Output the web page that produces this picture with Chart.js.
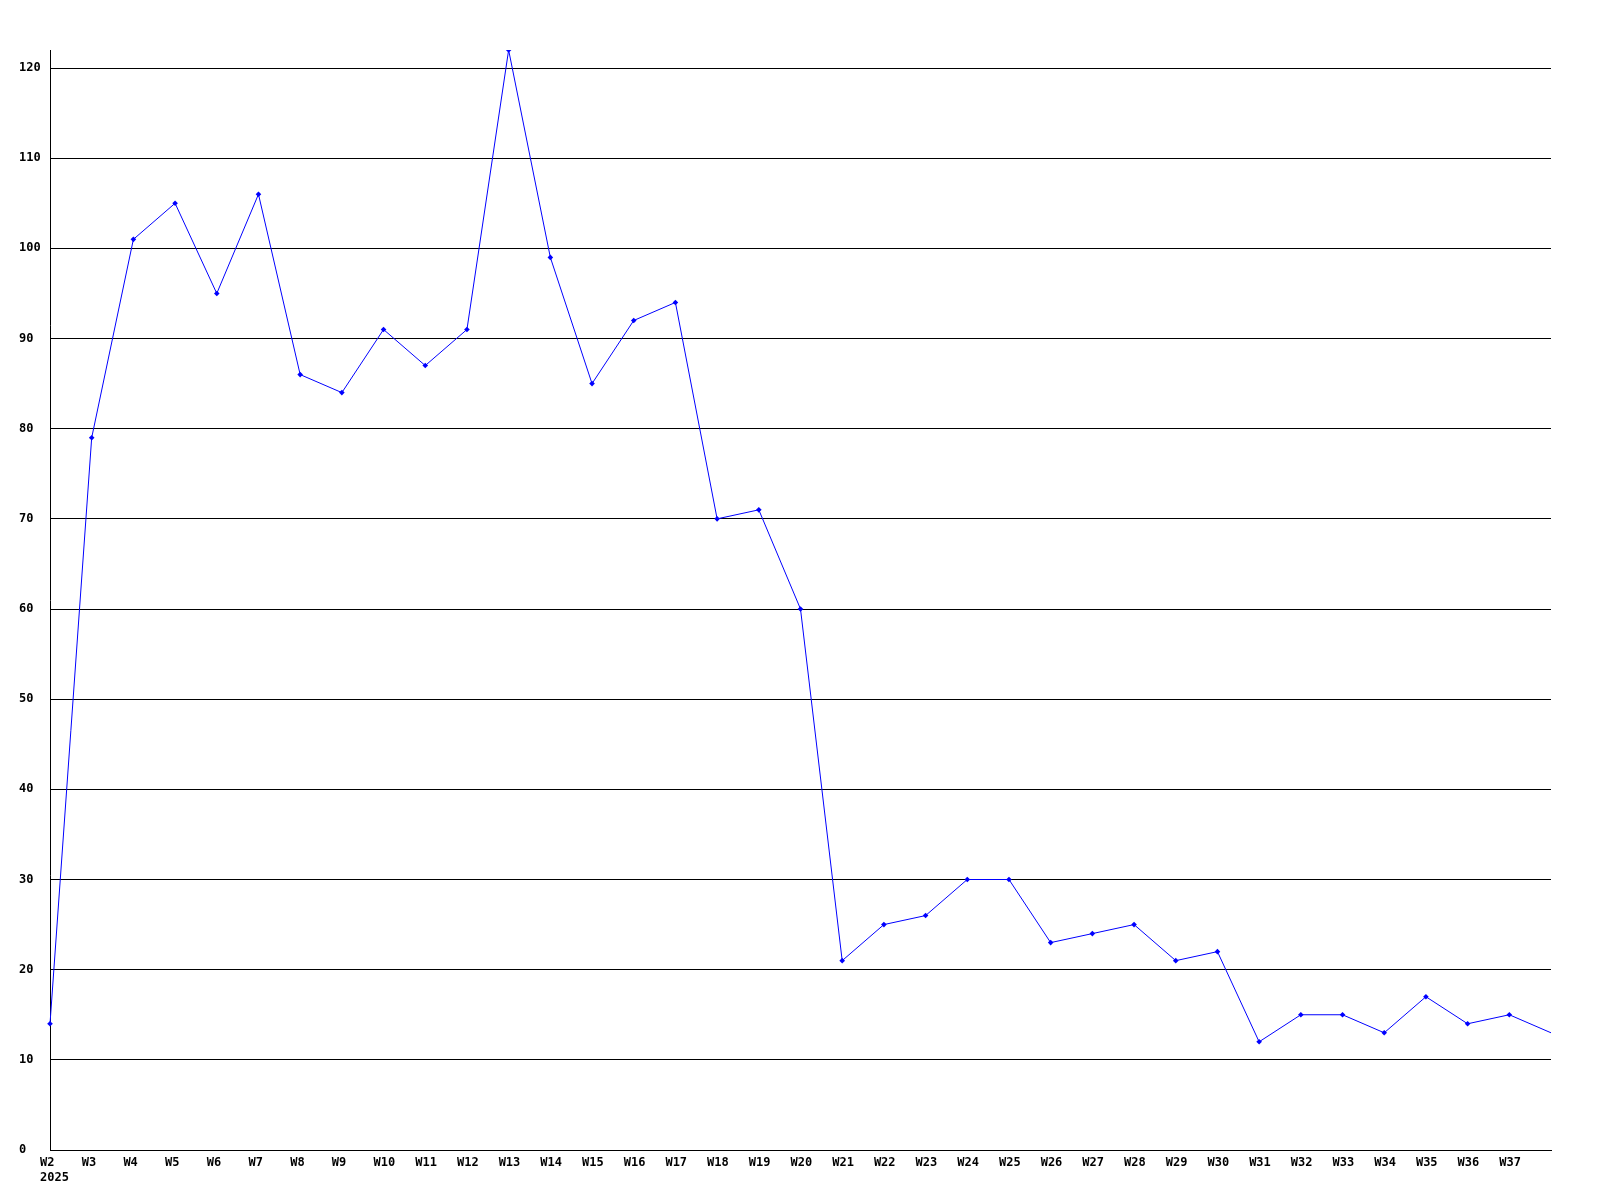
<!DOCTYPE html>
<html>
<head>
<meta charset="utf-8">
<script src="https://cdn.jsdelivr.net/npm/chart.js@4/dist/chart.umd.min.js"></script>
<style>
html,body{margin:0;padding:0;background:#fff;}
#c{display:block;}
</style>
</head>
<body>
<canvas id="c" width="1600" height="1200"></canvas>
<script>
const weeks = ['W2','W3','W4','W5','W6','W7','W8','W9','W10','W11','W12','W13','W14','W15','W16','W17','W18','W19','W20','W21','W22','W23','W24','W25','W26','W27','W28','W29','W30','W31','W32','W33','W34','W35','W36','W37','W38'];
const yearLabel = '2025';
const values = [14,79,101,105,95,106,86,84,91,87,91,122,99,85,92,94,70,71,60,21,25,26,30,30,23,24,25,21,22,12,15,15,13,17,14,15,13];
const yMin = 0, yMax = 122, yStep = 10;

const font = {family: '"DejaVu Sans Mono", monospace', size: 12, weight: 'bold'};

new Chart(document.getElementById('c'), {
  type: 'line',
  data: {
    labels: weeks,
    datasets: [{
      data: values,
      borderColor: '#0000ff',
      backgroundColor: '#0000ff',
      borderWidth: 1,
      pointStyle: 'rectRot',
      pointRadius: values.map((v,i)=> i === values.length-1 ? 0 : 2.8),
      pointBorderWidth: 0,
      tension: 0,
      fill: false
    }]
  },
  options: {
    responsive: false,
    devicePixelRatio: 1,
    animation: false,
    layout: {padding: {left: 19, top: 50, right: 49, bottom: 0}},
    plugins: {legend: {display: false}, tooltip: {enabled: false}},
    scales: {
      x: {
        offset: false,
        grid: {display: false, drawTicks: false},
        border: {display: true, color: '#000', width: 1},
        ticks: {
          color: '#000', font: font, padding: 6, maxRotation: 0, autoSkip: false,
          align: 'start', labelOffset: -10,
          callback: function(v, i) {
            if (i === weeks.length - 1) return '';
            if (i === 0) return [weeks[i], yearLabel];
            return weeks[i];
          }
        },
        afterFit: s => { s.height = 50; }
      },
      y: {
        min: yMin, max: yMax,
        grid: {color: '#000', lineWidth: 1, drawTicks: false},
        border: {display: true, color: '#000', width: 1},
        ticks: {color: '#000', font: font, stepSize: yStep, includeBounds: false, crossAlign: 'far', padding: 0},
        afterFit: s => { s.width = 31; }
      }
    }
  }
});
</script>
</body>
</html>
